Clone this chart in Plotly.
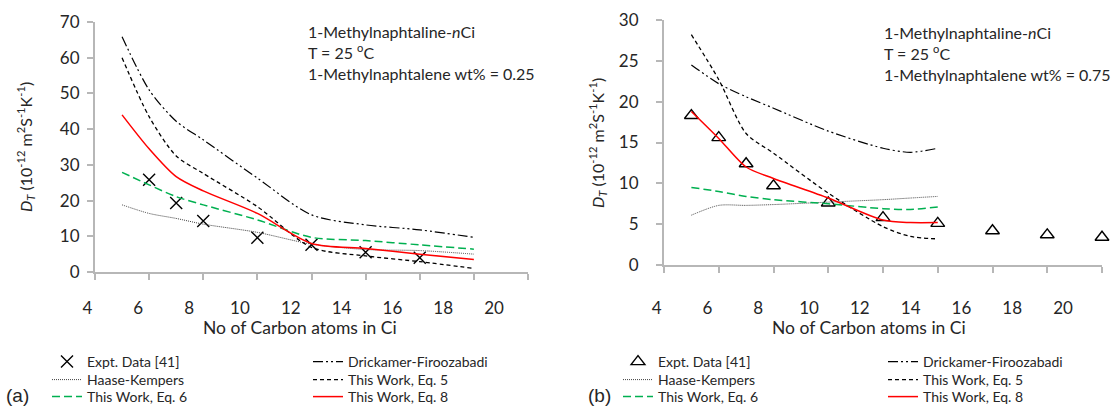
import plotly.graph_objects as go

# ---------------- data: (a) 1-Methylnaphtalene wt% = 0.25 ----------------
a_expt_c = [6, 7, 8, 10, 12, 14, 16]
a_expt_dt = [25.8, 19.3, 14.3, 9.6, 7.6, 5.5, 4.0]

a_model_c = [5, 6, 7, 8, 10, 12, 14, 16, 18]
a_drickamer = [65.9, 51.0, 42.2, 37.0, 26.3, 16.0, 13.2, 11.8, 9.7]
a_haase = [18.8, 16.4, 15.0, 13.4, 11.1, 7.8, 6.3, 6.0, 5.0]
a_eq5 = [60.0, 43.5, 32.5, 27.6, 18.3, 6.9, 4.5, 2.9, 1.0]
a_eq6 = [27.9, 24.4, 21.1, 18.8, 14.6, 9.7, 8.8, 7.6, 6.4]
a_eq8 = [44.0, 34.5, 26.7, 22.7, 16.4, 8.0, 6.6, 5.0, 3.5]

# ---------------- data: (b) 1-Methylnaphtalene wt% = 0.75 ----------------
b_expt_c = [5, 6, 7, 8, 10, 12, 14, 16, 18, 20]
b_expt_dt = [18.3, 15.6, 12.4, 9.7, 7.6, 5.8, 5.1, 4.2, 3.7, 3.4]

b_model_c = [5, 6, 7, 8, 10, 12, 13, 14]
b_drickamer = [24.5, 22.2, 20.6, 19.2, 16.4, 14.3, 13.8, 14.3]
b_haase = [6.1, 7.3, 7.3, 7.4, 7.7, 8.0, 8.2, 8.4]
b_eq5 = [28.2, 22.7, 16.1, 13.7, 8.8, 4.7, 3.5, 3.2]
b_eq6 = [9.5, 9.0, 8.4, 8.0, 7.5, 6.9, 6.8, 7.1]
b_eq8 = [18.8, 15.5, 12.0, 10.6, 8.2, 5.5, 5.2, 5.2]

x_ticks = [4, 6, 8, 10, 12, 14, 16, 18, 20]
a_y_ticks = [0, 10, 20, 30, 40, 50, 60, 70]
b_y_ticks = [0, 5, 10, 15, 20, 25, 30]

W, H = 1120, 407
FONT = "Lato"
TXT = "#262626"
AXC = "#b7b7b7"

line_styles = {
    "Drickamer-Firoozabadi": dict(color="black", width=1.2, dash="10px,3px,2px,3px,2px,3px"),
    "Haase-Kempers": dict(color="#404040", width=1.0, dash="1px,1px"),
    "This Work, Eq. 5": dict(color="black", width=1.3, dash="4px,3px"),
    "This Work, Eq. 6": dict(color="#00b050", width=1.5, dash="8px,4px"),
    "This Work, Eq. 8": dict(color="#ff0000", width=1.5),
}


def px(v):
    return v / W


def py(v):
    return 1 - v / H


# legend slots (pixel positions): two columns x three rows per panel
ROWS = [362, 380, 397]
slot_order = ["expt", "Drickamer-Firoozabadi", "Haase-Kempers",
              "This Work, Eq. 5", "This Work, Eq. 6", "This Work, Eq. 8"]

fig = go.Figure()
legends = {}


def add_panel(xa, ya, first_legend, col_x, marker, expt_c, expt_dt, model_c, models):
    series = dict(zip(slot_order[1:], models))
    for i, name in enumerate(slot_order):
        lg_idx = first_legend + i
        lg = "legend" if lg_idx == 1 else f"legend{lg_idx}"
        legends[lg] = dict(x=px(col_x[i % 2]), y=py(ROWS[i // 2]), xanchor="left",
                           yanchor="middle", bgcolor="rgba(0,0,0,0)", itemwidth=30,
                           font=dict(family=FONT, size=14, color=TXT))
        if name == "expt":
            fig.add_trace(go.Scatter(
                x=expt_c, y=expt_dt, mode="markers", name="Expt. Data [41]",
                marker=dict(symbol=marker, size=12, color="black",
                            line=dict(color="black", width=1.4)),
                cliponaxis=False, showlegend=True,
                xaxis=xa, yaxis=ya, legend=lg))
        else:
            fig.add_trace(go.Scatter(
                x=model_c, y=series[name], mode="lines", name=name,
                line=dict(shape="spline", smoothing=0.8, **line_styles[name]),
                showlegend=True, xaxis=xa, yaxis=ya, legend=lg))


add_panel("x", "y", 1, (47, 308), "x-thin-open", a_expt_c, a_expt_dt, a_model_c,
          [a_drickamer, a_haase, a_eq5, a_eq6, a_eq8])
add_panel("x2", "y2", 7, (618, 883), "triangle-up-open", b_expt_c, b_expt_dt, b_model_c,
          [b_drickamer, b_haase, b_eq5, b_eq6, b_eq8])

# empty traces carrying the carbon-number label axes
fig.add_trace(go.Scatter(x=[], y=[], xaxis="x3", yaxis="y3", showlegend=False))
fig.add_trace(go.Scatter(x=[], y=[], xaxis="x4", yaxis="y4", showlegend=False))

axis_common = dict(showgrid=False, zeroline=False, showline=True, linecolor=AXC, linewidth=2,
                   ticks="outside", tickcolor=AXC, tickwidth=1.5, ticklen=6,
                   tickfont=dict(family=FONT, size=17, color=TXT))
label_axis = dict(range=[4, 20], tickvals=x_ticks, showline=False, showgrid=False,
                  zeroline=False, ticks="", anchor="free", position=py(296),
                  tickfont=dict(family=FONT, size=17, color=TXT))

fig.update_layout(
    width=W, height=H,
    showlegend=True,
    margin=dict(l=0, r=0, t=0, b=0, autoexpand=False),
    paper_bgcolor="white", plot_bgcolor="rgba(0,0,0,0)",
    xaxis=dict(domain=[px(95), px(528)], range=[4, 20], tickvals=x_ticks, showticklabels=False,
               anchor="y", **axis_common),
    yaxis=dict(domain=[py(272), py(22)], range=[0, 70], tickvals=a_y_ticks, anchor="x",
               ticklabelstandoff=4, **axis_common),
    xaxis2=dict(domain=[px(664), px(1102)], range=[4, 20], tickvals=x_ticks, showticklabels=False,
                anchor="y2", **axis_common),
    yaxis2=dict(domain=[py(265), py(20)], range=[0, 30], tickvals=b_y_ticks, anchor="x2",
                ticklabelstandoff=14, **axis_common),
    xaxis3=dict(domain=[px(87.5), px(494)], **label_axis),
    yaxis3=dict(domain=[py(272), py(22)], range=[0, 1], visible=False, anchor="x3"),
    xaxis4=dict(domain=[px(656.7), px(1063)], **label_axis),
    yaxis4=dict(domain=[py(265), py(20)], range=[0, 1], visible=False, anchor="x4"),
    **legends,
)

ytitle = "<i>D<sub>T</sub></i> (10<sup>-12</sup> m<sup>2</sup>S<sup>-1</sup>K<sup>-1</sup>)"
notes = [
    # axis titles
    dict(x=px(25), y=py(147), text=ytitle, textangle=-90, font=dict(size=16)),
    dict(x=px(598), y=py(143), text=ytitle, textangle=-90, font=dict(size=16)),
    dict(x=px(300), y=py(327), text="No of Carbon atoms in Ci", font=dict(size=17.5)),
    dict(x=px(869), y=py(327), text="No of Carbon atoms in Ci", font=dict(size=17.5)),
    # panel letters
    dict(x=px(31), y=py(395), text="(a)", xanchor="right",
         font=dict(family="Liberation Sans", size=19)),
    dict(x=px(613), y=py(395), text="(b)", xanchor="right",
         font=dict(family="Liberation Sans", size=19)),
    # condition boxes
    dict(x=px(306), y=py(20), yanchor="top", xanchor="left", align="left",
         text="1-Methylnaphtaline-<i>n</i>Ci<br>T = 25 <sup>o</sup>C<br>1-Methylnaphtalene wt% = 0.25",
         font=dict(size=16)),
    dict(x=px(882), y=py(21), yanchor="top", xanchor="left", align="left",
         text="1-Methylnaphtaline-<i>n</i>Ci<br>T = 25 <sup>o</sup>C<br>1-Methylnaphtalene wt% = 0.75",
         font=dict(size=16)),
]
for n in notes:
    f = dict(family=FONT, color=TXT)
    f.update(n.pop("font"))
    n.setdefault("xanchor", "center")
    n.setdefault("yanchor", "middle")
    fig.add_annotation(xref="paper", yref="paper", showarrow=False, font=f, **n)

fig.write_html("out.html")
